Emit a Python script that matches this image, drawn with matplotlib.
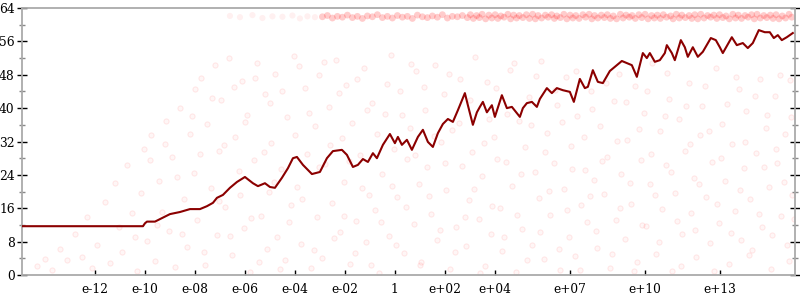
import numpy as np
import matplotlib
matplotlib.use("Agg")
import matplotlib.pyplot as plt
from matplotlib.ticker import MultipleLocator, FixedLocator, NullLocator

# x values are stored as powers of ten (log10 x)
line_exp = [-14.92, -10.08, -10.0, -9.92, -9.6, -9.4, -9.0, -8.6, -8.2, -7.8, -7.52, -7.28,
            -7.12, -6.88, -6.6, -6.32, -6.0, -5.68, -5.48, -5.2, -5.0, -4.8, -4.52, -4.28,
            -4.08, -3.92, -3.68, -3.32, -3.0, -2.72, -2.48, -2.12, -1.92, -1.68, -1.48, -1.28,
            -1.08, -0.88, -0.72, -0.48, -0.2, 0.0, 0.12, 0.28, 0.48, 0.68, 0.92, 1.12, 1.32,
            1.52, 1.72, 1.92, 2.12, 2.32, 2.52, 2.8, 2.92, 3.12, 3.28, 3.4, 3.52, 3.68, 3.88,
            4.0, 4.28, 4.48, 4.68, 4.88, 5.0, 5.12, 5.28, 5.48, 5.68, 5.8, 6.08, 6.28, 6.48,
            6.72, 7.0, 7.16, 7.4, 7.6, 7.72, 7.92, 8.12, 8.32, 8.6, 8.8, 9.08, 9.28, 9.48,
            9.68, 9.92, 10.08, 10.2, 10.4, 10.6, 10.8, 10.88, 11.08, 11.2, 11.44, 11.6, 11.72,
            11.92, 12.12, 12.32, 12.64, 12.84, 13.0, 13.12, 13.48, 13.68, 13.92, 14.12, 14.32,
            14.56, 14.8, 15.0, 15.16, 15.32, 15.48, 15.68, 15.92]
line_y = [11.7, 11.7, 12.4, 12.8, 12.8, 13.4, 14.6, 15.1, 15.8, 15.8, 16.5, 17.3,
          18.5, 19.2, 20.9, 22.3, 23.5, 22.0, 21.3, 22.0, 21.1, 20.9, 23.3, 25.6,
          28.0, 28.3, 26.4, 24.2, 24.7, 28.0, 29.7, 30.0, 28.8, 25.9, 26.4, 27.8,
          27.1, 29.2, 28.0, 31.2, 33.8, 31.6, 33.1, 31.2, 32.4, 30.0, 33.1, 34.8, 31.9,
          30.7, 34.0, 36.2, 37.4, 36.7, 39.5, 43.6, 40.7, 36.0, 39.0, 40.3, 41.5, 39.0, 40.7,
          37.9, 43.1, 40.0, 40.3, 38.8, 37.9, 40.0, 41.2, 41.5, 40.3, 42.2, 44.8, 43.6, 44.8,
          44.3, 43.9, 41.5, 47.0, 44.8, 45.1, 49.1, 46.3, 46.0, 48.9, 49.9, 51.3, 50.8, 50.3,
          47.5, 53.2, 52.0, 53.2, 51.1, 51.5, 53.2, 55.1, 53.2, 51.5, 56.3, 54.6, 52.3,
          54.6, 52.3, 53.5, 56.8, 56.3, 54.6, 53.2, 57.0, 55.1, 55.6, 54.4, 55.6,
          58.7, 58.2, 58.2, 56.8, 57.5, 56.3, 57.0, 58.0]

cloud_exp = [-14.3, -14.0, -13.7, -13.4, -13.1, -12.8, -12.5, -12.3, -12.1,
             -11.9, -11.6, -11.4, -11.2, -11.05, -10.9, -10.7, -10.5, -10.3, -10.15, -10.05,
             -9.9, -9.75, -9.6, -9.45, -9.3, -9.15, -9.05,
             -8.9, -8.8, -8.6, -8.45, -8.3, -8.2, -8.05, -8.0,
             -7.9, -7.75, -7.6, -7.5, -7.35, -7.2, -7.1, -7.02,
             -6.95, -6.8, -6.65, -6.5, -6.4, -6.25, -6.1, -6.05,
             -5.9, -5.8, -5.65, -5.5, -5.35, -5.2, -5.1, -5.02,
             -4.95, -4.8, -4.7, -4.55, -4.4, -4.3, -4.15, -4.05,
             -3.9, -3.75, -3.6, -3.5, -3.35, -3.2, -3.1, -3.02,
             -2.9, -2.8, -2.65, -2.5, -2.35, -2.2, -2.1, -2.02,
             -1.95, -1.8, -1.7, -1.55, -1.4, -1.25, -1.15, -1.05,
             -0.9, -0.8, -0.65, -0.5, -0.4, -0.25, -0.15, -0.05,
             0.1, 0.2, 0.35, 0.5, 0.6, 0.75, 0.85, 0.95,
             1.05, 1.2, 1.3, 1.45, 1.6, 1.7, 1.85, 1.95,
             2.05, 2.2, 2.3, 2.45, 2.6, 2.7, 2.85, 2.95,
             3.1, 3.2, 3.35, 3.5, 3.6, 3.75, 3.85, 3.95,
             4.05, 4.2, 4.3, 4.45, 4.6, 4.7, 4.85, 4.95,
             5.1, 5.2, 5.35, 5.5, 5.6, 5.75, 5.85, 5.95,
             6.1, 6.2, 6.35, 6.5, 6.6, 6.75, 6.85, 6.95,
             7.05, 7.2, 7.3, 7.45, 7.6, 7.7, 7.85, 7.95,
             8.1, 8.2, 8.35, 8.5, 8.6, 8.75, 8.85, 8.95,
             9.05, 9.2, 9.3, 9.45, 9.6, 9.7, 9.85, 9.95,
             10.05, 10.2, 10.3, 10.45, 10.6, 10.7, 10.85, 10.95,
             11.1, 11.2, 11.35, 11.5, 11.6, 11.75, 11.85, 11.95,
             12.05, 12.2, 12.3, 12.45, 12.6, 12.7, 12.85, 12.95,
             13.1, 13.2, 13.35, 13.5, 13.6, 13.75, 13.85, 13.95,
             14.05, 14.2, 14.3, 14.45, 14.6, 14.7, 14.85, 14.95,
             15.05, 15.2, 15.3, 15.45, 15.6, 15.7, 15.8, 15.9,
             # second pass over the cloud
             -10.4, -9.8, -9.5, -9.2, -8.7, -8.5, -8.1, -7.8, -7.65, -7.3,
             -7.05, -6.85, -6.6, -6.45, -6.2, -6.0, -5.75, -5.6, -5.45, -5.25,
             -5.0, -4.85, -4.6, -4.5, -4.25, -4.0, -3.85, -3.7, -3.45, -3.25,
             -3.05, -2.85, -2.6, -2.45, -2.25, -2.05, -1.85, -1.6, -1.5, -1.3,
             -1.1, -0.95, -0.7, -0.55, -0.3, -0.1, 0.05, 0.3, 0.45, 0.65,
             0.8, 1.0, 1.15, 1.35, 1.55, 1.8, 2.0, 2.15, 2.4, 2.55,
             2.8, 3.0, 3.15, 3.4, 3.55, 3.7, 3.9, 4.1, 4.35, 4.5,
             4.75, 4.9, 5.05, 5.3, 5.45, 5.65, 5.8, 6.0, 6.15, 6.4,
             6.55, 6.7, 6.9, 7.1, 7.25, 7.4, 7.55, 7.8, 7.9, 8.05,
             8.3, 8.45, 8.7, 8.9, 9.0, 9.25, 9.4, 9.55, 9.75, 9.9,
             10.1, 10.25, 10.4, 10.55, 10.8, 10.9, 11.05, 11.3, 11.45, 11.65,
             11.8, 12.0, 12.15, 12.4, 12.55, 12.75, 12.9, 13.05, 13.3, 13.45,
             13.65, 13.8, 14.0, 14.15, 14.4, 14.55, 14.75, 14.9, 15.1, 15.25,
             15.4, 15.55, 15.75, 15.85, 15.95]
cloud_y = [2.1, 3.8, 1.2, 6.3, 3.5, 9.8, 4.4, 13.9, 1.7,
           7.2, 17.5, 2.9, 22.1, 11.4, 5.6, 26.3, 14.8, 0.9, 19.7, 30.2,
           8.1, 33.5, 3.3, 22.6, 15.2, 36.8, 10.5,
           28.4, 1.9, 40.1, 18.2, 6.7, 33.9, 24.5, 44.7,
           13.3, 47.2, 2.4, 36.1, 20.8, 50.3, 9.6, 29.7,
           41.9, 16.4, 52.1, 4.8, 33.2, 24.9, 46.6, 11.3,
           38.4, 0.8, 27.5, 50.9, 14.1, 43.3, 6.2, 19.8,
           31.6, 48.2, 9.1, 25.3, 3.5, 37.9, 16.7, 52.4,
           21.2, 7.4, 44.8, 29.1, 1.6, 35.6, 13.8, 47.9,
           4.1, 26.6, 40.2, 17.3, 51.5, 10.2, 32.8, 22.4,
           45.6, 2.7, 36.4, 12.9, 28.8, 49.7, 7.8, 19.1,
           41.3, 15.5, 0.6, 24.2, 38.7, 9.4, 52.8, 30.3,
           18.6, 44.1, 5.3, 27.9, 35.2, 12.2, 48.8, 21.7,
           3.2, 39.6, 25.8, 14.6, 50.4, 8.5, 31.9, 43.5,
           20.3, 1.4, 34.7, 11.6, 46.9, 26.1, 6.9, 17.9,
           29.4, 52.2, 13.4, 23.7, 2.2, 37.3, 9.9, 33.1,
           44.9, 16.1, 5.7, 27.2, 49.1, 21.4, 0.7, 36.9,
           11.1, 30.6, 42.6, 7.1, 24.6, 18.4, 51.2, 3.9,
           34.1, 14.3, 26.8, 40.8, 1.1, 20.6, 47.4, 9.2,
           30.9, 4.6, 38.1, 16.9, 25.1, 12.7, 44.2, 22.8,
           6.4, 35.7, 19.4, 28.3, 1.8, 41.7, 13.1, 48.3,
           24.1, 8.7, 32.4, 17.1, 45.4, 3.1, 27.6, 38.9,
           11.8, 21.9, 50.7, 5.1, 34.6, 15.9, 26.4, 42.1,
           0.9, 19.6, 37.4, 9.8, 29.8, 46.1, 14.9, 23.3,
           4.3, 33.6, 40.4, 18.7, 7.6, 27.1, 49.6, 12.4,
           36.2, 22.5, 2.6, 31.3, 15.3, 44.6, 8.3, 25.7,
           39.2, 18.1, 5.9, 29.3, 47.1, 11.5, 35.3, 21.1,
           1.5, 42.9, 26.9, 14.2, 33.9, 7.3, 46.8, 19.2,
           # second pass over the cloud
           9.2, 27.5, 12.1, 31.4, 23.6, 9.9, 38.2, 28.9, 5.5, 42.5,
           17.7, 31.1, 9.3, 45.1, 19.2, 36.7, 13.6, 47.3, 3.2, 29.4,
           41.2, 22.3, 1.4, 44.0, 12.8, 33.5, 50.1, 18.2, 38.8, 6.1,
           25.9, 51.0, 31.2, 8.9, 43.7, 14.1, 27.3, 5.2, 47.0, 20.9,
           39.5, 2.3, 33.8, 12.6, 45.8, 21.3, 7.1, 38.3, 16.2, 50.6,
           28.7, 2.5, 45.1, 19.0, 33.4, 10.9, 26.9, 48.1, 5.4, 36.4,
           14.0, 41.9, 20.5, 0.4, 31.7, 46.3, 16.5, 27.9, 9.0, 38.5,
           50.9, 14.4, 24.2, 3.7, 35.9, 47.6, 10.3, 29.5, 20.1, 44.3,
           6.2, 36.7, 15.7, 25.5, 49.0, 1.3, 33.0, 18.9, 39.7, 10.6,
           27.4, 46.0, 5.0, 32.2, 16.0, 41.4, 22.0, 0.9, 35.0, 12.0,
           44.0, 29.0, 19.1, 8.0, 38.0, 48.5, 24.6, 13.0, 2.1, 40.6,
           31.5, 10.7, 21.8, 45.3, 34.5, 1.0, 17.0, 28.1, 41.0, 10.0,
           47.5, 20.4, 32.0, 4.9, 43.0, 14.7, 26.0, 38.4, 9.5, 30.1,
           48.0, 22.2, 3.3, 37.9, 13.5]

# thin start of the band near the top, where only a few points fall
band_sparse_exp = [-6.6, -6.2, -5.7, -5.3, -4.9, -4.5, -4.1, -3.8, -3.5, -3.2]
band_sparse_y = [62.1, 61.8, 62.3, 61.6, 62.0, 61.9, 62.2, 61.5, 62.0, 61.8]

band_exp = [-2.9, -2.7, -2.5, -2.3, -2.1, -1.9, -1.7, -1.5, -1.3, -1.1,
            -0.9, -0.7, -0.5, -0.3, -0.1, 0.1, 0.3, 0.5, 0.7, 0.9,
            1.1, 1.3, 1.5, 1.7, 1.9, 2.1, 2.3, 2.5, 2.7, 2.9,
            3.02, 3.27, 3.49, 3.76, 4.01, 4.24, 4.52, 4.75, 4.98, 5.26,
            5.51, 5.73, 6.02, 6.27, 6.48, 6.76, 7.01, 7.24, 7.52, 7.77,
            7.99, 8.26, 8.5, 8.74, 9.02, 9.25, 9.49, 9.76, 10.01, 10.27,
            10.5, 10.74, 11.03, 11.26, 11.48, 11.77, 12.0, 12.24, 12.51, 12.76,
            12.99, 13.25, 13.52, 13.74, 14.01, 14.27, 14.49, 14.76, 15.02, 15.25,
            15.5, 15.77,
            3.14, 3.38, 3.63, 3.88, 4.12, 4.37, 4.63, 4.87, 5.12, 5.38,
            5.62, 5.87, 6.13, 6.38, 6.62, 6.88, 7.12, 7.37, 7.63, 7.88,
            8.12, 8.38, 8.62, 8.87, 9.13, 9.38, 9.62, 9.88, 10.13, 10.38,
            10.62, 10.87, 11.13, 11.38, 11.62, 11.88, 12.12, 12.37, 12.63, 12.88,
            13.12, 13.38, 13.63, 13.87, 14.13, 14.38, 14.62, 14.88, 15.13, 15.37,
            15.63, 15.88]
band_y = [61.9, 62.2, 61.6, 62.0, 61.8, 62.3, 61.7, 62.0, 61.5, 62.1,
          61.9, 62.4, 61.7, 62.0, 61.6, 62.2, 61.8, 62.0, 61.5, 62.3,
          61.9, 61.7, 62.1, 61.8, 62.4, 61.6, 62.0, 61.9, 62.2, 61.7,
          62.4, 62.2, 62.5, 62.3, 62.4, 62.1, 62.5, 62.3, 62.2, 62.4,
          62.5, 62.2, 62.3, 62.4, 62.1, 62.5, 62.3, 62.2, 62.4, 62.5,
          62.2, 62.3, 62.4, 62.1, 62.5, 62.3, 62.2, 62.4, 62.5, 62.2,
          62.3, 62.4, 62.1, 62.5, 62.3, 62.2, 62.4, 62.5, 62.2, 62.3,
          62.4, 62.1, 62.5, 62.3, 62.2, 62.4, 62.5, 62.2, 62.3, 62.4,
          62.1, 62.5,
          61.5, 61.7, 61.4, 61.6, 61.5, 61.8, 61.4, 61.6, 61.7, 61.5,
          61.4, 61.6, 61.8, 61.5, 61.7, 61.4, 61.6, 61.5, 61.8, 61.4,
          61.6, 61.7, 61.5, 61.4, 61.6, 61.8, 61.5, 61.7, 61.4, 61.6,
          61.5, 61.8, 61.4, 61.6, 61.7, 61.5, 61.4, 61.6, 61.8, 61.5,
          61.7, 61.4, 61.6, 61.5, 61.8, 61.4, 61.6, 61.7, 61.5, 61.4,
          61.6, 61.8]

tick_exp = [-12, -10, -8, -6, -4, -2, 0, 2, 4, 7, 10, 13]
tick_labels = ['e-12', 'e-10', 'e-08', 'e-06', 'e-04', 'e-02', '1',
               'e+02', 'e+04', 'e+07', 'e+10', 'e+13']

plt.rcParams['font.family'] = ['DejaVu Serif']

fig = plt.figure(figsize=(8, 3), dpi=100)
ax = fig.add_axes([0.0275, 0.0833, 0.966, 0.89])

pow10 = lambda e: np.power(10.0, np.asarray(e, dtype=float))

ax.scatter(pow10(cloud_exp), cloud_y, s=14, facecolor=(1, 0, 0, 0.035),
           edgecolor=(1, 0, 0, 0.08), linewidth=0.8, zorder=1)
ax.scatter(pow10(band_sparse_exp), band_sparse_y, s=20, facecolor=(1, 0, 0, 0.06),
           edgecolor='none', zorder=1)
ax.scatter(pow10(band_exp), band_y, s=24, facecolor=(1, 0, 0, 0.2),
           edgecolor='none', zorder=1)
ax.plot(pow10(line_exp), line_y, color='#8b0000', linewidth=1.5, zorder=3)

ax.set_xscale('log')
ax.set_xlim(pow10(-14.92), pow10(16.0))
ax.set_ylim(0, 64)

ax.xaxis.set_major_locator(FixedLocator(pow10(tick_exp)))
ax.xaxis.set_minor_locator(NullLocator())
ax.set_xticklabels(tick_labels)
ax.yaxis.set_major_locator(MultipleLocator(8))
ax.yaxis.set_minor_locator(MultipleLocator(4))

for s in ax.spines.values():
    s.set_color('#aaaaaa')
    s.set_linewidth(1.3)

ax.tick_params(axis='x', which='major', direction='in', length=3.8, width=1,
               color='black', labelsize=8.8, pad=6)
ax.tick_params(axis='y', which='major', direction='inout', length=7.5, width=1,
               color='black', labelsize=8.8, pad=1.5, right=True)
ax.tick_params(axis='y', which='minor', direction='inout', length=3.8, width=1,
               color='#888888', right=True)

fig.savefig('out.png', dpi=100)
